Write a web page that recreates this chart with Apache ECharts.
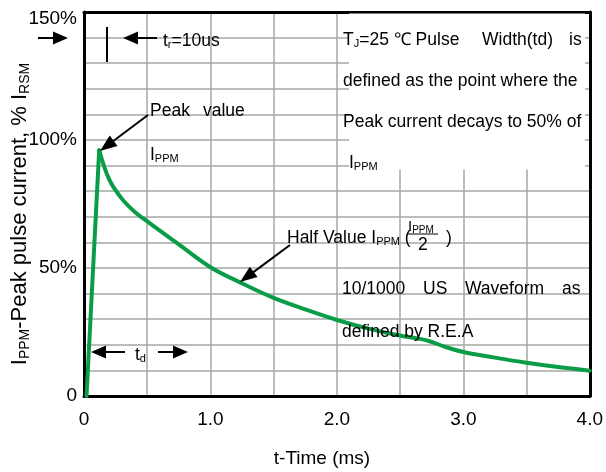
<!DOCTYPE html>
<html>
<head>
<meta charset="utf-8">
<script src="https://cdn.jsdelivr.net/npm/echarts@6/dist/echarts.min.js"></script>
<style>html,body{margin:0;padding:0;background:#fff}#c{width:606px;height:472px}</style>
</head>
<body>
<div id="c"></div>
<script>
// ---- data ----
// rising edge (straight) and decay (smooth) of the 10/1000us pulse
var riseTimeMs = [0.02, 0.12];
var risePct = [0, 96];
var decayTimeMs = [0.12, 0.2, 0.3, 0.4, 0.5, 0.75, 1.0, 1.25, 1.5, 1.75, 2.0, 2.25, 2.5, 2.72, 2.85, 3.0, 3.25, 3.5, 3.75, 4.0];
var decayPct = [96, 84.5, 77, 72, 68.2, 59.2, 50.3, 44, 38.3, 33.8, 29.7, 26.3, 23.6, 21.6, 19.3, 17.2, 15, 13, 11.3, 9.9];
var yTickLabels = {0: '0', 50: '50%', 100: '100%', 150: '{top|150%}'};
var xTickLabels = {0: '0', 1: '1.0', 2: '2.0', 3: '3.0', 4: '4.0'};

var FONT = '"Liberation Sans", Arial, sans-serif';
var GRIDC = '#a3a9a2';
var GREEN = '#0a9d48';
var AF = 17.5;

var chart = echarts.init(document.getElementById('c'), null, {renderer: 'canvas'});

function rt(x, y, str, size, align) {
  return {
    type: 'text', x: x, y: y, z: 20,
    style: {
      text: str, fontFamily: FONT, fontSize: size, fill: '#000',
      verticalAlign: 'middle', align: align || 'left',
      rich: {
        b: {fontSize: size, fontFamily: FONT, fill: '#000', height: size},
        s: {fontSize: Math.round(size * 0.64), fontFamily: FONT, fill: '#000', padding: [Math.round(size*0.45),0,0,0]}
      }
    }
  };
}
function arrow(x1, y1, x2, y2, hl, hw) {
  var dx = x2 - x1, dy = y2 - y1, L = Math.sqrt(dx*dx + dy*dy);
  var ux = dx / L, uy = dy / L, px = -uy, py = ux;
  var bx = x2 - ux * hl, by = y2 - uy * hl;
  return [
    {type: 'line', z: 20, shape: {x1: x1, y1: y1, x2: bx + ux*2, y2: by + uy*2}, style: {stroke: '#000', lineWidth: 2}},
    {type: 'polygon', z: 20, shape: {points: [[x2, y2], [bx + px*hw/2, by + py*hw/2], [bx - px*hw/2, by - py*hw/2]]}, style: {fill: '#000'}}
  ];
}

var g = [];
// white box behind the description
g.push({type: 'rect', z: 5, shape: {x: 349, y: 13.5, width: 236, height: 156}, style: {fill: '#fff'}});
// t_r markers
g = g.concat(arrow(38, 38, 68, 38, 15, 13));
g.push({type: 'line', z: 20, shape: {x1: 107, y1: 27, x2: 107, y2: 62}, style: {stroke: '#000', lineWidth: 2}});
g = g.concat(arrow(157, 38, 123, 38, 15, 13));
g.push(rt(163, 41, '{b|t}{s|r}{b|=10us}', AF));
// peak value
g = g.concat(arrow(148, 115, 100, 151, 17, 13));
g.push(rt(150, 111, 'Peak', AF));
g.push(rt(203, 111, 'value', AF));
g.push(rt(150, 155, '{b|I}{s|PPM}', AF));
// half value
g = g.concat(arrow(290, 245, 240, 282, 17, 13));
g.push(rt(287, 238, '{b|Half Value I}{s|PPM}{b| (}', AF));
g.push(rt(408, 227, '{b|I}{s|PPM}', 15));
g.push({type: 'line', z: 20, shape: {x1: 407, y1: 234, x2: 438, y2: 234}, style: {stroke: '#000', lineWidth: 1}});
g.push(rt(418, 245, '2', AF));
g.push(rt(446, 238, ')', AF));
// description box
g.push(rt(343, 40, '{b|T}{s|J}{b|=25 \u2103 Pulse}', AF));
g.push(rt(482, 40, 'Width(td)', AF));
g.push(rt(569, 40, 'is', AF));
g.push(rt(343, 81, 'defined as the point where the', AF));
g.push(rt(343, 122, 'Peak current decays to 50% of', AF));
g.push(rt(349, 163, '{b|I}{s|PPM}', AF));
// waveform note
g.push(rt(342, 289, '10/1000', AF));
g.push(rt(423, 289, 'US', AF));
g.push(rt(465, 289, 'Waveform', AF));
g.push(rt(562, 289, 'as', AF));
g.push(rt(342, 332, 'defined by R.E.A', AF));
// t_d
g = g.concat(arrow(125, 352, 91, 352, 15, 13));
g = g.concat(arrow(158, 352, 188, 352, 15, 13));
g.push(rt(135, 355, '{b|t}{s|d}', AF));
// axis titles
g.push(rt(322, 459, 't-Time (ms)', 19, 'center'));
g.push({
  type: 'text', x: 20, y: 214, rotation: Math.PI / 2, z: 20,
  style: {
    text: '{b|I}{s|PPM}{b|-Peak pulse current, % I}{s|RSM}',
    align: 'center', verticalAlign: 'middle',
    rich: {
      b: {fontSize: 22, fontFamily: FONT, fill: '#000', height: 22},
      s: {fontSize: 14, fontFamily: FONT, fill: '#000', padding: [10,0,0,0]}
    }
  }
});

function zip(xs, ys) { return xs.map(function (t, i) { return [t, ys[i]]; }); }
var lineStyle = {color: GREEN, width: 4, join: 'round', cap: 'round'};

chart.setOption({
  animation: false,
  backgroundColor: '#fff',
  grid: {left: 84, right: 14, top: 12, bottom: 76, containLabel: false},
  xAxis: [{
    type: 'value', min: 0, max: 4, interval: 0.5,
    axisLine: {show: true, onZero: false, lineStyle: {color: '#000', width: 3}},
    axisTick: {show: false},
    splitLine: {show: true, lineStyle: {color: GRIDC, width: 1.5}},
    axisLabel: {
      margin: 14, fontSize: 19, fontFamily: FONT, color: '#000',
      formatter: function (v) { return xTickLabels[v] !== undefined ? xTickLabels[v] : ''; }
    }
  }, {
    type: 'value', position: 'top', min: 0, max: 4,
    axisLine: {show: true, onZero: false, lineStyle: {color: '#000', width: 3}},
    axisTick: {show: false}, axisLabel: {show: false}, splitLine: {show: false}
  }],
  yAxis: [{
    type: 'value', min: 0, max: 150, interval: 10,
    axisLine: {show: true, onZero: false, lineStyle: {color: '#000', width: 3}},
    axisTick: {show: false},
    splitLine: {show: true, lineStyle: {color: GRIDC, width: 1.5}},
    axisLabel: {
      margin: 7, fontSize: 19, fontFamily: FONT, color: '#000',
      rich: {top: {fontSize: 19, fontFamily: FONT, color: '#000', padding: [13, 0, 0, 0]}},
      formatter: function (v) { return yTickLabels[v] !== undefined ? yTickLabels[v] : ''; }
    }
  }, {
    type: 'value', position: 'right', min: 0, max: 150,
    axisLine: {show: true, onZero: false, lineStyle: {color: '#000', width: 3}},
    axisTick: {show: false}, axisLabel: {show: false}, splitLine: {show: false}
  }],
  series: [{
    type: 'line', data: zip(riseTimeMs, risePct), showSymbol: false, smooth: false,
    lineStyle: lineStyle, z: 3
  }, {
    type: 'line', data: zip(decayTimeMs, decayPct), showSymbol: false, smooth: 0.35,
    lineStyle: lineStyle, z: 3
  }],
  graphic: g
});
</script>
</body>
</html>
